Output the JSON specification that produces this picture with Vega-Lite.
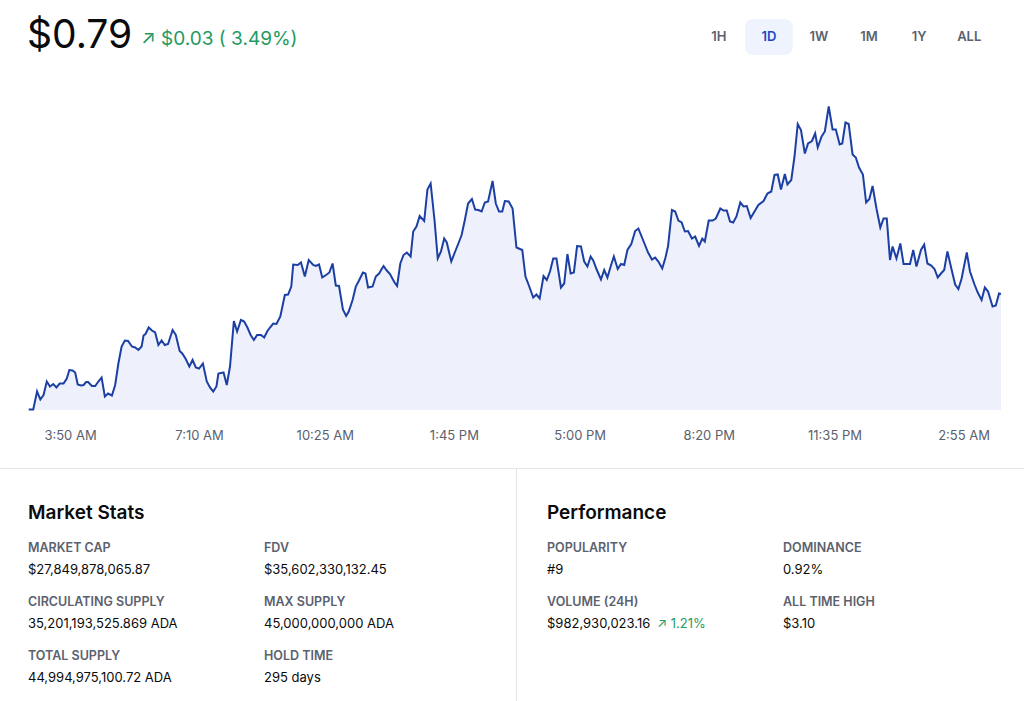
{
  "$schema": "https://vega.github.io/schema/vega-lite/v6.json",
  "background": "#ffffff",
  "padding": 0,
  "spacing": 58,
  "bounds": "flush",
  "config": {"view": {"stroke": null}, "font": "Inter"},
  "vconcat": [
    {
      "width": 1024,
      "height": 12,
      "data": {"values": [
        {"range": "1H", "active": false},
        {"range": "1D", "active": true},
        {"range": "1W", "active": false},
        {"range": "1M", "active": false},
        {"range": "1Y", "active": false},
        {"range": "ALL", "active": false}
      ]},
      "layer": [
        {
          "transform": [{"filter": "datum.active"}],
          "mark": {"type": "bar", "cornerRadius": 8, "color": "#eef3fe"},
          "encoding": {
            "x": {"field": "range", "type": "nominal", "sort": null,
                  "scale": {"domain": ["1H", "1D", "1W", "1M", "1Y", "ALL"], "range": [695, 993], "paddingInner": 0.05, "paddingOuter": 0},
                  "axis": null},
            "y": {"value": 19},
            "y2": {"value": 55}
          }
        },
        {
          "mark": {"type": "text", "fontSize": 13, "fontWeight": 600, "baseline": "middle"},
          "encoding": {
            "x": {"field": "range", "type": "nominal", "sort": null, "axis": null},
            "y": {"value": 37},
            "text": {"field": "range"},
            "color": {"condition": {"test": "datum.active", "value": "#1848c8"}, "value": "#5b616e"}
          }
        },
        {
          "data": {"values": [{"price": "$0.79", "change": "↗ $0.03 ( 3.49%)"}]},
          "layer": [
            {
              "mark": {"type": "text", "align": "left", "baseline": "middle", "fontSize": 39, "color": "#0a0b0d"},
              "encoding": {"x": {"value": 27}, "y": {"value": 36}, "text": {"field": "price"}}
            },
            {
              "mark": {"type": "text", "align": "left", "baseline": "middle", "fontSize": 19, "color": "#1f9a62"},
              "encoding": {"x": {"value": 141}, "y": {"value": 39}, "text": {"field": "change"}}
            }
          ]
        }
      ]
    },
    {
      "width": 1024,
      "height": 340,
      "data": {"values": [
        {"t": "2024-01-01T02:46", "p": 0.7641}, {"t": "2024-01-01T02:53", "p": 0.7641}, {"t": "2024-01-01T02:59", "p": 0.7677}, {"t": "2024-01-01T03:04", "p": 0.7661},
        {"t": "2024-01-01T03:09", "p": 0.767}, {"t": "2024-01-01T03:14", "p": 0.7697}, {"t": "2024-01-01T03:19", "p": 0.7687}, {"t": "2024-01-01T03:24", "p": 0.7692},
        {"t": "2024-01-01T03:29", "p": 0.7685}, {"t": "2024-01-01T03:34", "p": 0.7693}, {"t": "2024-01-01T03:40", "p": 0.7693}, {"t": "2024-01-01T03:45", "p": 0.7703},
        {"t": "2024-01-01T03:49", "p": 0.772}, {"t": "2024-01-01T03:54", "p": 0.7719}, {"t": "2024-01-01T03:58", "p": 0.7715}, {"t": "2024-01-01T04:02", "p": 0.7691},
        {"t": "2024-01-01T04:07", "p": 0.7689}, {"t": "2024-01-01T04:11", "p": 0.769}, {"t": "2024-01-01T04:15", "p": 0.7696}, {"t": "2024-01-01T04:18", "p": 0.7696},
        {"t": "2024-01-01T04:24", "p": 0.7688}, {"t": "2024-01-01T04:29", "p": 0.7688}, {"t": "2024-01-01T04:34", "p": 0.7697}, {"t": "2024-01-01T04:39", "p": 0.7705},
        {"t": "2024-01-01T04:44", "p": 0.7667}, {"t": "2024-01-01T04:49", "p": 0.7673}, {"t": "2024-01-01T04:55", "p": 0.7669}, {"t": "2024-01-01T05:00", "p": 0.769},
        {"t": "2024-01-01T05:05", "p": 0.7733}, {"t": "2024-01-01T05:10", "p": 0.7767}, {"t": "2024-01-01T05:15", "p": 0.7779}, {"t": "2024-01-01T05:20", "p": 0.7778},
        {"t": "2024-01-01T05:26", "p": 0.7767}, {"t": "2024-01-01T05:31", "p": 0.7765}, {"t": "2024-01-01T05:36", "p": 0.776}, {"t": "2024-01-01T05:41", "p": 0.7767},
        {"t": "2024-01-01T05:44", "p": 0.7789}, {"t": "2024-01-01T05:47", "p": 0.7792}, {"t": "2024-01-01T05:52", "p": 0.7805}, {"t": "2024-01-01T05:57", "p": 0.7799},
        {"t": "2024-01-01T06:02", "p": 0.7795}, {"t": "2024-01-01T06:07", "p": 0.777}, {"t": "2024-01-01T06:12", "p": 0.7779}, {"t": "2024-01-01T06:17", "p": 0.777},
        {"t": "2024-01-01T06:22", "p": 0.7772}, {"t": "2024-01-01T06:29", "p": 0.78}, {"t": "2024-01-01T06:34", "p": 0.779}, {"t": "2024-01-01T06:40", "p": 0.7758},
        {"t": "2024-01-01T06:44", "p": 0.7753}, {"t": "2024-01-01T06:49", "p": 0.7743}, {"t": "2024-01-01T06:55", "p": 0.7727}, {"t": "2024-01-01T07:00", "p": 0.774},
        {"t": "2024-01-01T07:05", "p": 0.7725}, {"t": "2024-01-01T07:10", "p": 0.7723}, {"t": "2024-01-01T07:16", "p": 0.7733}, {"t": "2024-01-01T07:22", "p": 0.7697},
        {"t": "2024-01-01T07:27", "p": 0.7685}, {"t": "2024-01-01T07:32", "p": 0.7677}, {"t": "2024-01-01T07:37", "p": 0.7687}, {"t": "2024-01-01T07:40", "p": 0.7713},
        {"t": "2024-01-01T07:48", "p": 0.7715}, {"t": "2024-01-01T07:53", "p": 0.769}, {"t": "2024-01-01T07:58", "p": 0.7727}, {"t": "2024-01-01T08:04", "p": 0.7818},
        {"t": "2024-01-01T08:09", "p": 0.7797}, {"t": "2024-01-01T08:15", "p": 0.782}, {"t": "2024-01-01T08:20", "p": 0.7817}, {"t": "2024-01-01T08:25", "p": 0.7805},
        {"t": "2024-01-01T08:30", "p": 0.779}, {"t": "2024-01-01T08:35", "p": 0.778}, {"t": "2024-01-01T08:40", "p": 0.779}, {"t": "2024-01-01T08:46", "p": 0.779},
        {"t": "2024-01-01T08:51", "p": 0.7785}, {"t": "2024-01-01T08:56", "p": 0.7798}, {"t": "2024-01-01T09:00", "p": 0.7805}, {"t": "2024-01-01T09:05", "p": 0.7813},
        {"t": "2024-01-01T09:10", "p": 0.7812}, {"t": "2024-01-01T09:16", "p": 0.7827}, {"t": "2024-01-01T09:23", "p": 0.787}, {"t": "2024-01-01T09:28", "p": 0.7871},
        {"t": "2024-01-01T09:33", "p": 0.7887}, {"t": "2024-01-01T09:36", "p": 0.7931}, {"t": "2024-01-01T09:43", "p": 0.793}, {"t": "2024-01-01T09:48", "p": 0.7935},
        {"t": "2024-01-01T09:54", "p": 0.7907}, {"t": "2024-01-01T10:00", "p": 0.794}, {"t": "2024-01-01T10:07", "p": 0.793}, {"t": "2024-01-01T10:11", "p": 0.7928},
        {"t": "2024-01-01T10:16", "p": 0.7931}, {"t": "2024-01-01T10:21", "p": 0.7905}, {"t": "2024-01-01T10:28", "p": 0.7911}, {"t": "2024-01-01T10:32", "p": 0.7915},
        {"t": "2024-01-01T10:37", "p": 0.7933}, {"t": "2024-01-01T10:42", "p": 0.7889}, {"t": "2024-01-01T10:47", "p": 0.7888}, {"t": "2024-01-01T10:53", "p": 0.7841},
        {"t": "2024-01-01T10:58", "p": 0.7828}, {"t": "2024-01-01T11:02", "p": 0.7837}, {"t": "2024-01-01T11:08", "p": 0.786}, {"t": "2024-01-01T11:13", "p": 0.7887},
        {"t": "2024-01-01T11:18", "p": 0.7899}, {"t": "2024-01-01T11:24", "p": 0.7915}, {"t": "2024-01-01T11:28", "p": 0.7913}, {"t": "2024-01-01T11:32", "p": 0.7885},
        {"t": "2024-01-01T11:39", "p": 0.7887}, {"t": "2024-01-01T11:44", "p": 0.7907}, {"t": "2024-01-01T11:49", "p": 0.7913}, {"t": "2024-01-01T11:56", "p": 0.7928},
        {"t": "2024-01-01T12:01", "p": 0.7919}, {"t": "2024-01-01T12:06", "p": 0.7912}, {"t": "2024-01-01T12:13", "p": 0.7895}, {"t": "2024-01-01T12:17", "p": 0.7888},
        {"t": "2024-01-01T12:22", "p": 0.7933}, {"t": "2024-01-01T12:27", "p": 0.795}, {"t": "2024-01-01T12:32", "p": 0.7955}, {"t": "2024-01-01T12:38", "p": 0.7947},
        {"t": "2024-01-01T12:42", "p": 0.7997}, {"t": "2024-01-01T12:47", "p": 0.8007}, {"t": "2024-01-01T12:52", "p": 0.8028}, {"t": "2024-01-01T12:59", "p": 0.8018},
        {"t": "2024-01-01T13:04", "p": 0.8081}, {"t": "2024-01-01T13:09", "p": 0.8093}, {"t": "2024-01-01T13:15", "p": 0.802}, {"t": "2024-01-01T13:20", "p": 0.7943},
        {"t": "2024-01-01T13:25", "p": 0.7957}, {"t": "2024-01-01T13:30", "p": 0.7983}, {"t": "2024-01-01T13:34", "p": 0.7975}, {"t": "2024-01-01T13:41", "p": 0.7937},
        {"t": "2024-01-01T13:47", "p": 0.7957}, {"t": "2024-01-01T13:52", "p": 0.7973}, {"t": "2024-01-01T13:57", "p": 0.799}, {"t": "2024-01-01T14:02", "p": 0.802},
        {"t": "2024-01-01T14:07", "p": 0.8053}, {"t": "2024-01-01T14:13", "p": 0.8062}, {"t": "2024-01-01T14:18", "p": 0.8041}, {"t": "2024-01-01T14:23", "p": 0.804},
        {"t": "2024-01-01T14:28", "p": 0.8037}, {"t": "2024-01-01T14:33", "p": 0.8055}, {"t": "2024-01-01T14:38", "p": 0.8057}, {"t": "2024-01-01T14:45", "p": 0.8098},
        {"t": "2024-01-01T14:50", "p": 0.8053}, {"t": "2024-01-01T14:55", "p": 0.8037}, {"t": "2024-01-01T15:00", "p": 0.8037}, {"t": "2024-01-01T15:04", "p": 0.8058},
        {"t": "2024-01-01T15:10", "p": 0.8057}, {"t": "2024-01-01T15:16", "p": 0.8043}, {"t": "2024-01-01T15:22", "p": 0.7965}, {"t": "2024-01-01T15:31", "p": 0.796},
        {"t": "2024-01-01T15:36", "p": 0.7907}, {"t": "2024-01-01T15:41", "p": 0.789}, {"t": "2024-01-01T15:48", "p": 0.7865}, {"t": "2024-01-01T15:53", "p": 0.7871},
        {"t": "2024-01-01T15:58", "p": 0.7863}, {"t": "2024-01-01T16:04", "p": 0.7908}, {"t": "2024-01-01T16:09", "p": 0.79}, {"t": "2024-01-01T16:14", "p": 0.7917},
        {"t": "2024-01-01T16:19", "p": 0.7943}, {"t": "2024-01-01T16:24", "p": 0.7943}, {"t": "2024-01-01T16:31", "p": 0.7885}, {"t": "2024-01-01T16:36", "p": 0.7893},
        {"t": "2024-01-01T16:41", "p": 0.7952}, {"t": "2024-01-01T16:46", "p": 0.7913}, {"t": "2024-01-01T16:51", "p": 0.7915}, {"t": "2024-01-01T16:56", "p": 0.7968},
        {"t": "2024-01-01T17:02", "p": 0.7967}, {"t": "2024-01-01T17:07", "p": 0.7937}, {"t": "2024-01-01T17:12", "p": 0.7927}, {"t": "2024-01-01T17:17", "p": 0.7947},
        {"t": "2024-01-01T17:21", "p": 0.7939}, {"t": "2024-01-01T17:26", "p": 0.7922}, {"t": "2024-01-01T17:33", "p": 0.7901}, {"t": "2024-01-01T17:38", "p": 0.792},
        {"t": "2024-01-01T17:43", "p": 0.7905}, {"t": "2024-01-01T17:48", "p": 0.7927}, {"t": "2024-01-01T17:53", "p": 0.7947}, {"t": "2024-01-01T17:59", "p": 0.7922},
        {"t": "2024-01-01T18:04", "p": 0.7932}, {"t": "2024-01-01T18:09", "p": 0.793}, {"t": "2024-01-01T18:14", "p": 0.796}, {"t": "2024-01-01T18:20", "p": 0.7972},
        {"t": "2024-01-01T18:26", "p": 0.7998}, {"t": "2024-01-01T18:31", "p": 0.8003}, {"t": "2024-01-01T18:36", "p": 0.7987}, {"t": "2024-01-01T18:41", "p": 0.7971},
        {"t": "2024-01-01T18:46", "p": 0.7955}, {"t": "2024-01-01T18:52", "p": 0.7941}, {"t": "2024-01-01T18:57", "p": 0.7945}, {"t": "2024-01-01T19:02", "p": 0.7937},
        {"t": "2024-01-01T19:08", "p": 0.7923}, {"t": "2024-01-01T19:13", "p": 0.7945}, {"t": "2024-01-01T19:17", "p": 0.7968}, {"t": "2024-01-01T19:23", "p": 0.804},
        {"t": "2024-01-01T19:28", "p": 0.8037}, {"t": "2024-01-01T19:33", "p": 0.8019}, {"t": "2024-01-01T19:38", "p": 0.8015}, {"t": "2024-01-01T19:43", "p": 0.7997},
        {"t": "2024-01-01T19:48", "p": 0.7998}, {"t": "2024-01-01T19:54", "p": 0.7983}, {"t": "2024-01-01T19:59", "p": 0.7987}, {"t": "2024-01-01T20:05", "p": 0.7968},
        {"t": "2024-01-01T20:10", "p": 0.7983}, {"t": "2024-01-01T20:14", "p": 0.7977}, {"t": "2024-01-01T20:20", "p": 0.8019}, {"t": "2024-01-01T20:26", "p": 0.8019},
        {"t": "2024-01-01T20:31", "p": 0.8023}, {"t": "2024-01-01T20:38", "p": 0.8043}, {"t": "2024-01-01T20:43", "p": 0.8039}, {"t": "2024-01-01T20:48", "p": 0.8039},
        {"t": "2024-01-01T20:53", "p": 0.8017}, {"t": "2024-01-01T20:58", "p": 0.8015}, {"t": "2024-01-01T21:03", "p": 0.8027}, {"t": "2024-01-01T21:09", "p": 0.8055},
        {"t": "2024-01-01T21:14", "p": 0.8047}, {"t": "2024-01-01T21:19", "p": 0.8048}, {"t": "2024-01-01T21:25", "p": 0.8024}, {"t": "2024-01-01T21:31", "p": 0.8037},
        {"t": "2024-01-01T21:37", "p": 0.805}, {"t": "2024-01-01T21:45", "p": 0.8058}, {"t": "2024-01-01T21:51", "p": 0.8073}, {"t": "2024-01-01T21:57", "p": 0.8077},
        {"t": "2024-01-01T22:02", "p": 0.811}, {"t": "2024-01-01T22:07", "p": 0.8111}, {"t": "2024-01-01T22:12", "p": 0.8081}, {"t": "2024-01-01T22:18", "p": 0.8112},
        {"t": "2024-01-01T22:22", "p": 0.8091}, {"t": "2024-01-01T22:28", "p": 0.81}, {"t": "2024-01-01T22:33", "p": 0.8147}, {"t": "2024-01-01T22:38", "p": 0.8212},
        {"t": "2024-01-01T22:43", "p": 0.82}, {"t": "2024-01-01T22:49", "p": 0.8153}, {"t": "2024-01-01T22:54", "p": 0.8173}, {"t": "2024-01-01T23:00", "p": 0.8178},
        {"t": "2024-01-01T23:05", "p": 0.8193}, {"t": "2024-01-01T23:09", "p": 0.8165}, {"t": "2024-01-01T23:15", "p": 0.8187}, {"t": "2024-01-01T23:20", "p": 0.8197},
        {"t": "2024-01-01T23:26", "p": 0.8247}, {"t": "2024-01-01T23:32", "p": 0.8201}, {"t": "2024-01-01T23:37", "p": 0.8201}, {"t": "2024-01-01T23:43", "p": 0.8171},
        {"t": "2024-01-01T23:47", "p": 0.8173}, {"t": "2024-01-01T23:52", "p": 0.8215}, {"t": "2024-01-01T23:57", "p": 0.8212}, {"t": "2024-01-02T00:03", "p": 0.8151},
        {"t": "2024-01-02T00:08", "p": 0.8145}, {"t": "2024-01-02T00:13", "p": 0.8125}, {"t": "2024-01-02T00:19", "p": 0.8111}, {"t": "2024-01-02T00:24", "p": 0.8055},
        {"t": "2024-01-02T00:29", "p": 0.8062}, {"t": "2024-01-02T00:34", "p": 0.8088}, {"t": "2024-01-02T00:40", "p": 0.8043}, {"t": "2024-01-02T00:46", "p": 0.8005},
        {"t": "2024-01-02T00:51", "p": 0.8023}, {"t": "2024-01-02T00:56", "p": 0.8023}, {"t": "2024-01-02T01:01", "p": 0.794}, {"t": "2024-01-02T01:05", "p": 0.7967},
        {"t": "2024-01-02T01:11", "p": 0.7943}, {"t": "2024-01-02T01:17", "p": 0.7973}, {"t": "2024-01-02T01:22", "p": 0.7932}, {"t": "2024-01-02T01:32", "p": 0.7932},
        {"t": "2024-01-02T01:37", "p": 0.796}, {"t": "2024-01-02T01:42", "p": 0.7927}, {"t": "2024-01-02T01:49", "p": 0.796}, {"t": "2024-01-02T01:54", "p": 0.7971},
        {"t": "2024-01-02T01:59", "p": 0.7933}, {"t": "2024-01-02T02:05", "p": 0.7929}, {"t": "2024-01-02T02:10", "p": 0.7922}, {"t": "2024-01-02T02:15", "p": 0.7905},
        {"t": "2024-01-02T02:20", "p": 0.7913}, {"t": "2024-01-02T02:25", "p": 0.792}, {"t": "2024-01-02T02:30", "p": 0.7957}, {"t": "2024-01-02T02:37", "p": 0.7918},
        {"t": "2024-01-02T02:42", "p": 0.7891}, {"t": "2024-01-02T02:47", "p": 0.7882}, {"t": "2024-01-02T02:52", "p": 0.7903}, {"t": "2024-01-02T03:00", "p": 0.7955},
        {"t": "2024-01-02T03:05", "p": 0.7917}, {"t": "2024-01-02T03:12", "p": 0.7891}, {"t": "2024-01-02T03:17", "p": 0.7875}, {"t": "2024-01-02T03:23", "p": 0.786},
        {"t": "2024-01-02T03:28", "p": 0.7885}, {"t": "2024-01-02T03:33", "p": 0.7877}, {"t": "2024-01-02T03:40", "p": 0.7847}, {"t": "2024-01-02T03:45", "p": 0.7849},
        {"t": "2024-01-02T03:50", "p": 0.7873}, {"t": "2024-01-02T03:53", "p": 0.7872}
      ]},
      "encoding": {
        "x": {
          "field": "t", "type": "temporal",
          "scale": {"domain": [
            {"year": 2024, "month": 1, "date": 1, "hours": 2, "minutes": 1, "seconds": 30},
            {"year": 2024, "month": 1, "date": 2, "hours": 4, "minutes": 28, "seconds": 42}
          ]},
          "axis": {
            "title": null, "domain": false, "ticks": false, "grid": false,
            "labelFlush": false, "labelOverlap": false, "labelPadding": 19,
            "labelFontSize": 13, "labelColor": "#5b616e", "labelFont": "Inter",
            "format": "%-I:%M %p",
            "values": [
              {"year": 2024, "month": 1, "date": 1, "hours": 3, "minutes": 50},
              {"year": 2024, "month": 1, "date": 1, "hours": 7, "minutes": 10},
              {"year": 2024, "month": 1, "date": 1, "hours": 10, "minutes": 25},
              {"year": 2024, "month": 1, "date": 1, "hours": 13, "minutes": 45},
              {"year": 2024, "month": 1, "date": 1, "hours": 17, "minutes": 0},
              {"year": 2024, "month": 1, "date": 1, "hours": 20, "minutes": 20},
              {"year": 2024, "month": 1, "date": 1, "hours": 23, "minutes": 35},
              {"year": 2024, "month": 1, "date": 2, "hours": 2, "minutes": 55}
            ]
          }
        }
      },
      "layer": [
        {
          "mark": {"type": "area", "color": "#eef1fb", "interpolate": "linear"},
          "encoding": {
            "y": {"field": "p", "type": "quantitative", "scale": {"domain": [0.764, 0.832], "zero": false, "nice": false}, "axis": null},
            "y2": {"datum": 0.764}
          }
        },
        {
          "mark": {"type": "line", "color": "#1c3fa3", "strokeWidth": 2, "interpolate": "linear"},
          "encoding": {
            "y": {"field": "p", "type": "quantitative"}
          }
        }
      ]
    },
    {
      "hconcat": [
        {
          "width": 516,
          "height": 233,
          "title": {"text": "Market Stats", "anchor": "start", "frame": "group", "orient": "top", "offset": -64, "baseline": "middle", "dx": 28, "fontSize": 19, "fontWeight": 600, "color": "#0a0b0d", "font": "Inter"},
          "data": {"values": [
            {"label": "MARKET CAP", "value": "$27,849,878,065.87", "col": 0, "row": 0},
            {"label": "FDV", "value": "$35,602,330,132.45", "col": 1, "row": 0},
            {"label": "CIRCULATING SUPPLY", "value": "35,201,193,525.869 ADA", "col": 0, "row": 1},
            {"label": "MAX SUPPLY", "value": "45,000,000,000 ADA", "col": 1, "row": 1},
            {"label": "TOTAL SUPPLY", "value": "44,994,975,100.72 ADA", "col": 0, "row": 2},
            {"label": "HOLD TIME", "value": "295 days", "col": 1, "row": 2}
          ]},
          "encoding": {
            "x": {"field": "col", "type": "quantitative",
                  "scale": {"domain": [-0.1186, 2.0678], "zero": false, "nice": false},
                  "axis": {"orient": "top", "labels": false, "ticks": false, "grid": false, "domain": true, "domainColor": "#e3e4e6", "domainWidth": 1, "title": null}},
            "y": {"field": "row", "type": "quantitative",
                  "scale": {"domain": [-1.4815, 2.8333], "reverse": true, "zero": false, "nice": false},
                  "axis": null}
          },
          "layer": [
            {"mark": {"type": "text", "align": "left", "baseline": "middle", "fontSize": 12.5, "fontWeight": 600, "color": "#5b616e"},
             "encoding": {"text": {"field": "label"}}},
            {"mark": {"type": "text", "align": "left", "baseline": "middle", "fontSize": 13, "dy": 22, "color": "#0a0b0d"},
             "encoding": {"text": {"field": "value"}}}
          ]
        },
        {
          "width": 508,
          "height": 233,
          "title": {"text": "Performance", "anchor": "start", "frame": "group", "orient": "top", "offset": -64, "baseline": "middle", "dx": 31, "fontSize": 19, "fontWeight": 600, "color": "#0a0b0d", "font": "Inter"},
          "data": {"values": [
            {"label": "POPULARITY", "value": "#9", "col": 0, "row": 0},
            {"label": "DOMINANCE", "value": "0.92%", "col": 1, "row": 0},
            {"label": "VOLUME (24H)", "value": "$982,930,023.16", "change": "↗ 1.21%", "col": 0, "row": 1},
            {"label": "ALL TIME HIGH", "value": "$3.10", "col": 1, "row": 1}
          ]},
          "encoding": {
            "x": {"field": "col", "type": "quantitative",
                  "scale": {"domain": [-0.1314, 2.0212], "zero": false, "nice": false},
                  "axis": {"orient": "top", "labels": false, "ticks": false, "grid": false, "domain": true, "domainColor": "#e3e4e6", "domainWidth": 1, "title": null}},
            "y": {"field": "row", "type": "quantitative",
                  "scale": {"domain": [-1.4815, 2.8333], "reverse": true, "zero": false, "nice": false},
                  "axis": {"orient": "left", "labels": false, "ticks": false, "grid": false, "domain": true, "domainColor": "#e3e4e6", "domainWidth": 1, "title": null}}
          },
          "layer": [
            {"mark": {"type": "text", "align": "left", "baseline": "middle", "fontSize": 12.5, "fontWeight": 600, "color": "#5b616e"},
             "encoding": {"text": {"field": "label"}}},
            {"mark": {"type": "text", "align": "left", "baseline": "middle", "fontSize": 13, "dy": 22, "color": "#0a0b0d"},
             "encoding": {"text": {"field": "value"}}},
            {"transform": [{"filter": "isValid(datum.change)"}],
             "mark": {"type": "text", "align": "left", "baseline": "middle", "fontSize": 13, "dy": 22, "dx": 110, "color": "#1f9a62"},
             "encoding": {"text": {"field": "change"}}}
          ]
        }
      ],
      "spacing": 0,
      "bounds": "flush"
    }
  ]
}
